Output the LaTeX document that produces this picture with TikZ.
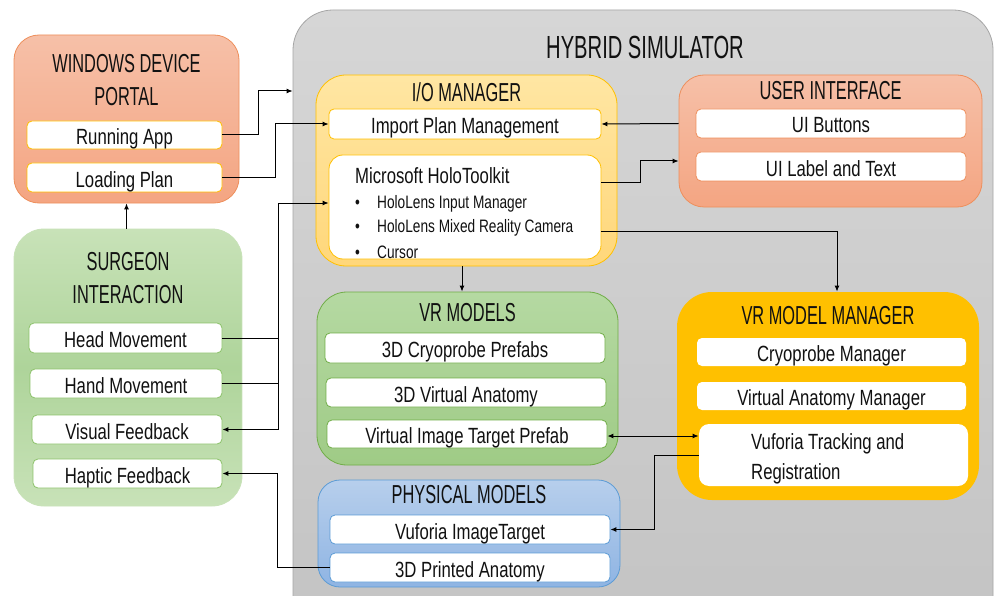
\documentclass[tikz,border=0pt]{standalone}
\usepackage{fontspec}
\setmainfont{Liberation Sans}[FakeStretch=0.76]
\newfontfamily\tfont{Liberation Sans}[FakeStretch=0.63]
\usetikzlibrary{arrows.meta,calc}
\definecolor{wdpTop}{HTML}{F6C0A8}
\definecolor{wdpBot}{HTML}{F4A582}
\definecolor{wdpBrd}{HTML}{EE8F5C}
\definecolor{sgTop}{HTML}{C8E2B8}
\definecolor{sgMid}{HTML}{AED49A}
\definecolor{sgBrd}{HTML}{8CC26A}
\definecolor{ioTop}{HTML}{FFE6A3}
\definecolor{ioBot}{HTML}{FFD77A}
\definecolor{ioBrd}{HTML}{FFC000}
\definecolor{vmTop}{HTML}{B5D9A2}
\definecolor{vmBot}{HTML}{9FCB86}
\definecolor{vmBrd}{HTML}{70AD47}
\definecolor{mmFill}{HTML}{FFC000}
\definecolor{phTop}{HTML}{B7CFEC}
\definecolor{phBot}{HTML}{8FB4E3}
\definecolor{phBrd}{HTML}{5B9BD5}
\definecolor{hyTop}{HTML}{D6D6D6}
\definecolor{hyBot}{HTML}{C3C3C3}
\definecolor{hyBrd}{HTML}{A6A6A6}
\definecolor{txt}{HTML}{111111}
\tikzset{
  container/.style={draw, line width=0.8pt, inner sep=0pt},
  item/.style={draw, fill=white, line width=0.8pt, rounded corners=5pt, inner sep=0pt,
     font=\fontsize{22}{26}\selectfont, text=txt, text height=19pt, text depth=0pt},
  ttl/.style={font=\tfont\fontsize{26}{33}\selectfont, text=txt, inner sep=0pt, align=center},
  small/.style={font=\fontsize{18}{22}\selectfont, text=txt, inner sep=0pt, anchor=west},
  arr/.style={line width=1pt, -{Latex[length=6pt,width=5pt]}},
  darr/.style={line width=1pt, {Latex[length=6pt,width=5pt]}-{Latex[length=6pt,width=5pt]}},
  ln/.style={line width=1pt}
}
\begin{document}
\begin{tikzpicture}[x=1pt,y=-1pt]
\useasboundingbox (0,0) rectangle (995,596);
\clip (0,0) rectangle (995,596);
\fill[white] (0,0) rectangle (995,596);

% Hybrid simulator
\node[container, draw=hyBrd, top color=hyTop, bottom color=hyBot, rounded corners=40pt,
  minimum width=700pt, minimum height=640pt] (hyb) at (643,330) {};
\node[ttl, font=\tfont\fontsize{32}{36}\selectfont] (hybt) at (645,47) {HYBRID SIMULATOR};

% Windows device portal
\node[container, draw=wdpBrd, top color=wdpTop, bottom color=wdpBot, rounded corners=25pt,
  minimum width=225pt, minimum height=168pt] (wdp) at (126.5,119) {};
\node[ttl] (wdpt) at (126.5,80.5) {WINDOWS DEVICE\\PORTAL};
\node[item, draw=ioBrd, minimum width=195pt, minimum height=28pt] (run) at (124.5,135) {Running App};
\node[item, draw=ioBrd, minimum width=195pt, minimum height=29pt] (load) at (124.5,177.5) {Loading Plan};

% Surgeon interaction
\node[container, draw=sgTop, rounded corners=30pt, minimum width=228pt, minimum height=277pt,
  top color=sgTop, bottom color=sgTop, middle color=sgMid] (surg) at (128,367.5) {};
\node[ttl] (surgt) at (128,278) {SURGEON\\INTERACTION};
\node[item, draw=sgBrd, minimum width=193pt, minimum height=30pt] (head) at (125.5,338) {Head Movement};
\node[item, draw=sgBrd, minimum width=192pt, minimum height=29pt] (hand) at (126,383.5) {Hand Movement};
\node[item, draw=sgBrd, minimum width=190pt, minimum height=29pt] (vis) at (127,429.5) {Visual Feedback};
\node[item, draw=sgBrd, minimum width=189pt, minimum height=29pt] (hap) at (127.5,473.5) {Haptic Feedback};

% I/O manager
\node[container, draw=ioBrd, top color=ioTop, bottom color=ioBot, rounded corners=30pt,
  minimum width=301pt, minimum height=191pt] (io) at (466.5,170.5) {};
\node[ttl] (iot) at (466.5,92) {I/O MANAGER};
\node[item, draw=ioBrd, minimum width=272pt, minimum height=30pt] (imp) at (465,124) {Import Plan Management};
\node[item, draw=ioBrd, rounded corners=14pt, minimum width=272pt, minimum height=104pt] (holo) at (465,207) {};
\node[small, font=\fontsize{22}{26}\selectfont] (holot) at (355,176) {Microsoft HoloToolkit};
\node[small] (holo1) at (355,204) {\makebox[22pt][l]{\textbullet}HoloLens Input Manager};
\node[small] (holo2) at (355,228) {\makebox[22pt][l]{\textbullet}HoloLens Mixed Reality Camera};
\node[small] (holo3) at (355,252) {\makebox[22pt][l]{\textbullet}Cursor};

% User interface
\node[container, draw=wdpBrd, top color=wdpTop, bottom color=wdpBot, rounded corners=25pt,
  minimum width=303pt, minimum height=132pt] (ui) at (830.5,141) {};
\node[ttl] (uit) at (830.5,91) {USER INTERFACE};
\node[item, draw=wdpBrd, minimum width=270pt, minimum height=29pt] (uib) at (831,123.5) {UI Buttons};
\node[item, draw=wdpBrd, minimum width=270pt, minimum height=29pt] (uil) at (831,166.5) {UI Label and Text};

% VR models
\node[container, draw=vmBrd, top color=vmTop, bottom color=vmBot, rounded corners=30pt,
  minimum width=301pt, minimum height=173pt] (vrm) at (467.5,378.5) {};
\node[ttl] (vrmt) at (467.5,313) {VR MODELS};
\node[item, draw=vmBrd, minimum width=280pt, minimum height=30pt] (cry) at (465,348) {3D Cryoprobe Prefabs};
\node[item, draw=vmBrd, minimum width=280pt, minimum height=29pt] (anat) at (466,392.5) {3D Virtual Anatomy};
\node[item, draw=vmBrd, minimum width=280pt, minimum height=28pt] (vit) at (467,434) {Virtual Image Target Prefab};

% VR model manager
\node[container, draw=none, fill=mmFill, rounded corners=35pt,
  minimum width=302pt, minimum height=208pt] (vrmm) at (828,396) {};
\node[ttl] (vrmmt) at (828,316) {VR MODEL MANAGER};
\node[item, draw=none, minimum width=269pt, minimum height=28pt] (cm) at (831.5,352) {Cryoprobe Manager};
\node[item, draw=none, minimum width=269pt, minimum height=28pt] (vam) at (831.5,396) {Virtual Anatomy Manager};
\node[item, draw=none, rounded corners=10pt, minimum width=269pt, minimum height=62pt] (vtr) at (833.5,455) {};
\node[small, font=\fontsize{22}{30}\selectfont, align=left] (vtrt) at (751,459) {Vuforia Tracking and\\Registration};

% Physical models
\node[container, draw=phBrd, top color=phTop, bottom color=phBot, rounded corners=22pt,
  minimum width=302pt, minimum height=107pt] (phys) at (469,533.5) {};
\node[ttl] (physt) at (469,495) {PHYSICAL MODELS};
\node[item, draw=phBrd, minimum width=280pt, minimum height=29pt] (vit2) at (470,529.5) {Vuforia ImageTarget};
\node[item, draw=phBrd, minimum width=280pt, minimum height=29pt] (print) at (470,567.5) {3D Printed Anatomy};

% Connectors
\coordinate (j1) at (258,91);
\draw[arr] (run.east) -| (j1) -- (j1 -| hyb.west);
\coordinate (j2) at (275,124);
\draw[arr] (load.east) -| (j2) -- (imp.west);
\draw[arr] (wdp.south |- surg.north) -- (wdp.south);
\coordinate (j4t) at (278,203);
\coordinate (j4b) at (278,429.5);
\draw[ln] (head.east) -- (head.east -| j4t);
\draw[ln] (hand.east) -- (hand.east -| j4t);
\draw[arr] (j4b) -- (j4t) -- (j4t -| holo.west);
\draw[arr] (j4t) -- (j4b) -- (vis.east);
\coordinate (j5) at (277,473.5);
\draw[arr] (print.west) -| (j5) -- (hap.east);
\draw[arr] (ui.west |- uib.center) -- (imp.east);
\coordinate (j7) at (640,183);
\coordinate (j7b) at (640,161);
\draw[arr] (holo.east |- j7) -- (j7) -- (j7b) -- (j7b -| ui.west);
\coordinate (j8) at (837,231);
\draw[arr] (holo.east |- j8) -- (j8) -- (j8 |- vrmm.north);
\draw[arr] ([xshift=-4.5pt]io.south) -- ([xshift=-4.5pt]io.south |- vrm.north);
\draw[darr] ([yshift=-2pt]vit.east) -- ([yshift=-2pt]vit.east -| vtr.west);
\coordinate (j11) at (654,455);
\draw[arr] (vtr.west |- j11) -- (j11) |- (vit2.east);
\end{tikzpicture}
\end{document}
